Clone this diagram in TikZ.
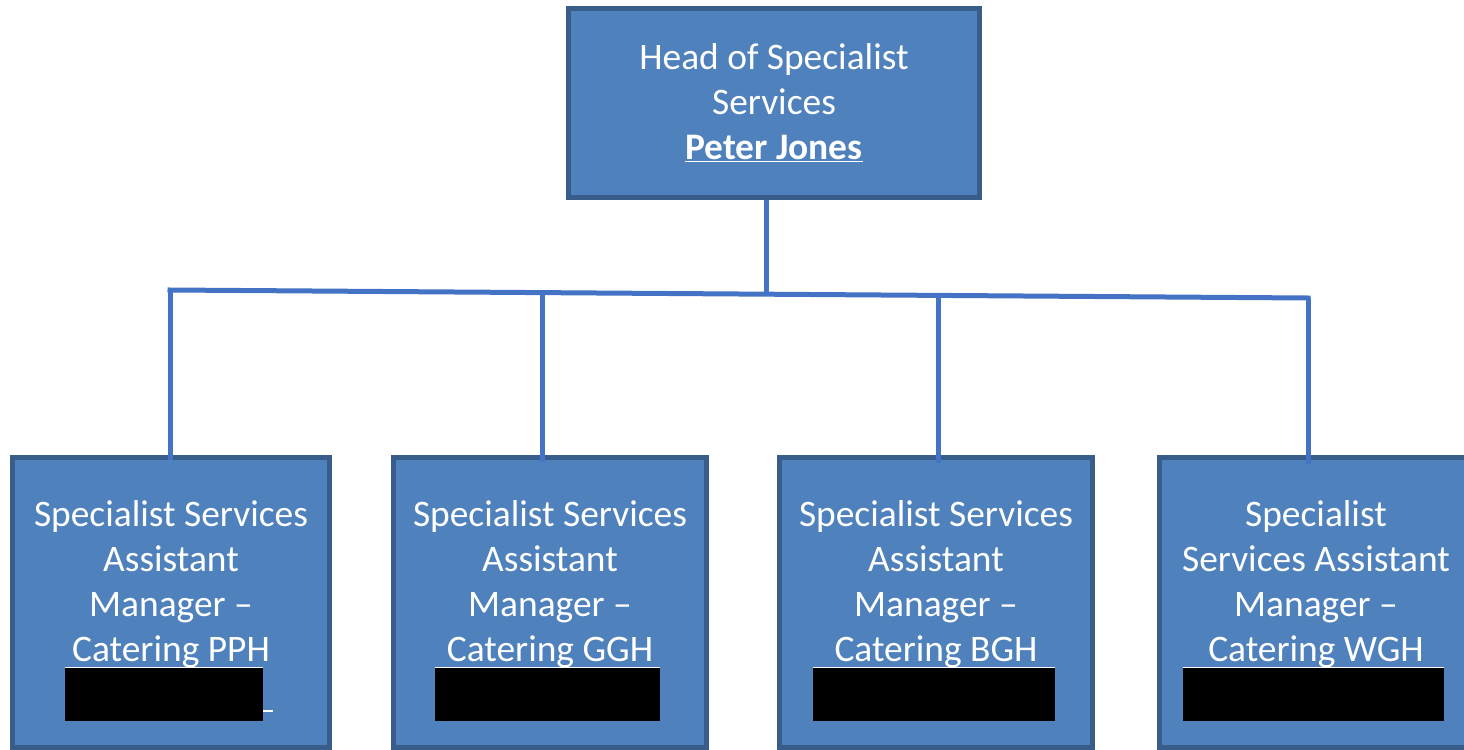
\documentclass[tikz,border=0pt]{standalone}
\usepackage{fontspec}
\setmainfont{Carlito}
\usetikzlibrary{calc}

\definecolor{boxfill}{HTML}{4F81BD}
\definecolor{boxline}{HTML}{385D8A}
\definecolor{linkblue}{HTML}{4472C4}

\tikzset{
  post/.style={draw=boxline, fill=boxfill, line width=0.1cm, inner sep=0pt},
  posttext/.style={text=white, align=center, inner sep=0pt,
    font=\fontsize{21.3}{25.6}\selectfont},
  redact/.style={fill=black, inner sep=0pt, minimum height=1.06cm},
  link/.style={draw=linkblue, line width=0.1cm}
}

\begin{document}
\begin{tikzpicture}[x=0.02cm, y=-0.02cm]
  \useasboundingbox (0,0) rectangle (1464,750);
  \clip (0,0) rectangle (1464,750);

  % head of the service
  \node[post, posttext, minimum width=8.22cm, minimum height=3.78cm] (head) at (774,103)
    {Head of Specialist\\Services\\\underline{\textbf{Peter Jones}}};

  % the four assistant managers
  \foreach \bx/\bw/\cx/\nm/\rx/\rw/\txt in {
      171/6.34cm/171/pph/164/3.96cm/{Specialist Services\\Assistant\\Manager –\\Catering PPH},
      550/6.26cm/550/ggh/547.5/4.5cm/{Specialist Services\\Assistant\\Manager –\\Catering GGH},
      936/6.26cm/936/bgh/934/4.84cm/{Specialist Services\\Assistant\\Manager –\\Catering BGH},
      1322/6.5cm/1316/wgh/1313.5/5.22cm/{Specialist\\Services Assistant\\Manager –\\Catering WGH}} {
    \node[post, minimum width=\bw, minimum height=5.8cm] (\nm) at (\bx,602.5) {};
    \node[posttext] (\nm-t) at (\cx,584.5) {\txt};
    \node[redact, minimum width=\rw] (\nm-r) at (\rx,694.5) {};
    \draw[white, line width=0.03cm] (\nm-r.north west) -- (\nm-r.north east);
  }
  \draw[white, line width=0.04cm] (pph-r.east |- 0,711) -- ++(10,0);

  % bus line and drops
  \coordinate (j1) at (170,290);
  \coordinate (j4) at (1308,298);
  \coordinate (j2) at ($(j1)!0.327!(j4)$);
  \coordinate (j3) at ($(j1)!0.675!(j4)$);
  \coordinate (jh) at ($(j1)!0.524!(j4)$);

  \draw[link] (jh |- head.south) -- (jh);
  \draw[link, line cap=rect] (j1) -- (j4);
  \draw[link] (j1) -- (j1 |- pph.north) -- ++(0,5);
  \draw[link] (j2) -- (j2 |- ggh.north) -- ++(0,7);
  \draw[link] (j3) -- (j3 |- bgh.north) -- ++(0,8);
  \draw[link] (j4) -- (j4 |- wgh.north) -- ++(0,9);
\end{tikzpicture}
\end{document}
